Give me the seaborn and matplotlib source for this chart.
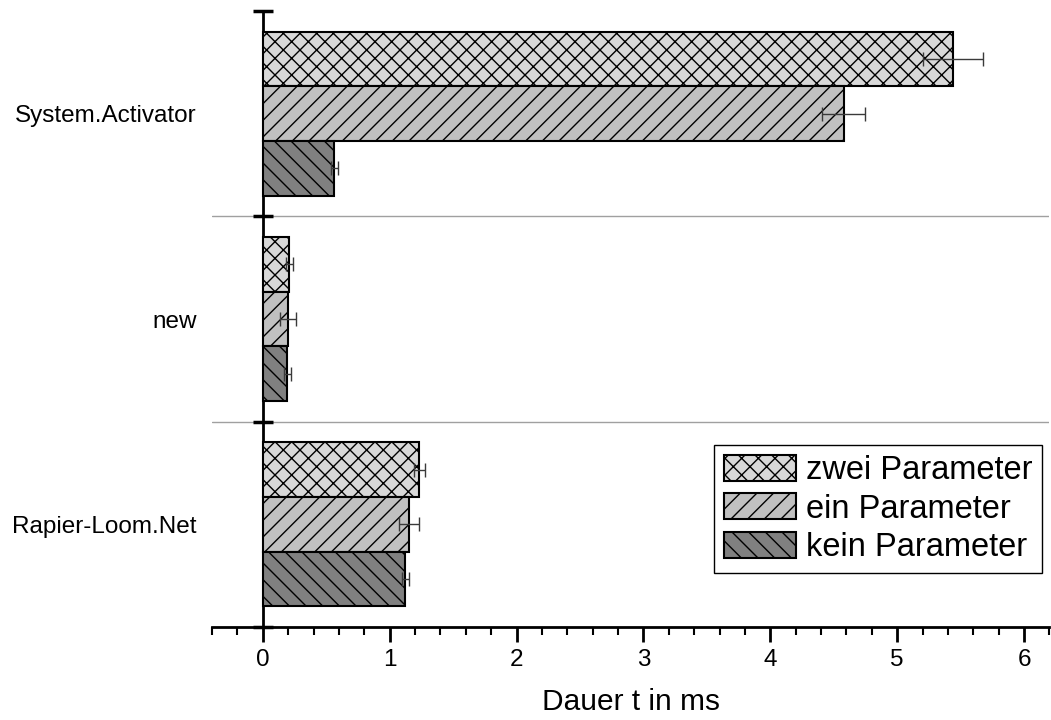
import matplotlib
matplotlib.use("Agg")
import matplotlib.pyplot as plt
from matplotlib.ticker import MultipleLocator
from matplotlib.container import BarContainer
import seaborn as sns
import pandas as pd

# ---- data ----
categories = ["System.Activator", "new", "Rapier-Loom.Net"]
series = ["zwei Parameter", "ein Parameter", "kein Parameter"]
zwei = [5.44, 0.21, 1.235]
ein = [4.58, 0.20, 1.155]
kein = [0.565, 0.195, 1.125]
zwei_err = [0.24, 0.03, 0.045]
ein_err = [0.17, 0.065, 0.08]
kein_err = [0.03, 0.03, 0.03]
x_ticks = [0, 1, 2, 3, 4, 5, 6]
x_label = "Dauer t in ms"

colors = ["#d8d8d8", "#c0c0c0", "#808080"]
hatches = ["xx", "//", "\\\\"]

rows = []
for s, vals in zip(series, [zwei, ein, kein]):
    for c, v in zip(categories, vals):
        rows.append({"category": c, "series": s, "value": v})
df = pd.DataFrame(rows)
errs = [zwei_err, ein_err, kein_err]

sns.set_style("ticks")
plt.rcParams["font.family"] = ["Liberation Sans", "DejaVu Sans"]
plt.rcParams["hatch.linewidth"] = 1.0
plt.rcParams["hatch.color"] = "black"
for k in ["axes.edgecolor", "xtick.color", "ytick.color", "text.color", "axes.labelcolor"]:
    plt.rcParams[k] = "black"

W, H = 1051, 720
fig = plt.figure(figsize=(W / 100, H / 100), dpi=100)
ax = fig.add_axes([212 / W, 1 - 627 / H, (1049.4 - 212) / W, (627 - 11) / H])

sns.barplot(data=df, y="category", x="value", hue="series", orient="h",
            palette=dict(zip(series, colors)), saturation=1,
            edgecolor="black", linewidth=1.5, errorbar=None,
            legend=False, ax=ax, zorder=3)

bar_containers = [c for c in ax.containers if isinstance(c, BarContainer)]
for cont, hatch, err in zip(bar_containers, hatches, errs):
    ys, ws = [], []
    for bar in cont:
        bar.set_hatch(hatch)
        ys.append(bar.get_y() + bar.get_height() / 2)
        ws.append(bar.get_width())
    ax.errorbar(ws, ys, xerr=err, fmt="none", ecolor="#3a3a3a",
                elinewidth=1, capsize=4.7, capthick=1, zorder=5)

xmin, xmax = -0.4, 6.2
ax.set_xlim(xmin, xmax)
ax.set_ylim(2.5, -0.5)
ax.set_xticks(x_ticks)
ax.xaxis.set_minor_locator(MultipleLocator(0.2))
ax.tick_params(axis="x", which="major", direction="out", length=11, width=2,
               labelsize=17.5, pad=5, colors="black")
ax.tick_params(axis="x", which="minor", direction="out", length=6, width=1.5)

ax.set_yticks([0, 1, 2], categories)
ax.set_yticks([0.5, 1.5], minor=True)
ax.tick_params(axis="y", which="both", length=0, pad=11, labelsize=17.5)
ax.grid(False)
ax.grid(axis="y", which="minor", color="#a0a0a0", linewidth=1)
ax.set_axisbelow(True)

for side in ["top", "right", "left"]:
    ax.spines[side].set_visible(False)
ax.spines["bottom"].set_linewidth(2)

# y axis line at x = 0 with category boundary ticks
pos = (0 - xmin) / (xmax - xmin)
sec = ax.secondary_yaxis(pos)
sec.set_zorder(2)
sec.set_yticks([-0.5, 0.5, 1.5, 2.5])
sec.set_yticklabels([])
sec.tick_params(direction="inout", length=14, width=2.5, color="black")
for sp in sec.spines.values():
    sp.set_linewidth(2)
    sp.set_color("black")

ax.set_ylabel("")
ax.set_xlabel(x_label, fontsize=21.5, labelpad=12)

handles = [c.patches[0] for c in bar_containers]
leg = ax.legend(handles, series, loc="lower right",
                bbox_to_anchor=(1042 / W, 1 - 573 / H), bbox_transform=fig.transFigure,
                fontsize=23.5, frameon=True, fancybox=False, edgecolor="black",
                framealpha=1, handlelength=2.2, handleheight=0.85,
                handletextpad=0.3, labelspacing=0.22, borderpad=0.3,
                borderaxespad=0)
leg.get_frame().set_linewidth(1)

fig.savefig("out.png", dpi=100)
